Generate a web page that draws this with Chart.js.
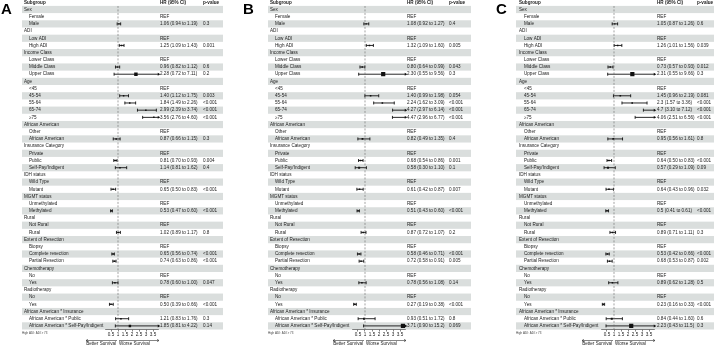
<!DOCTYPE html>
<html>
<head>
<meta charset="utf-8">
<title>Forest plots</title>
<script src="https://cdn.jsdelivr.net/npm/chart.js"></script>
<style>
  html, body { margin: 0; padding: 0; background: #fff; }
  #wrap { position: relative; width: 720px; height: 347px; overflow: hidden; }
  #wrap canvas { position: absolute; top: 0; }
</style>
</head>
<body>
<div id="wrap">
  <canvas id="panelA" width="240" height="347" style="left:0"></canvas>
  <canvas id="panelB" width="240" height="347" style="left:240px"></canvas>
  <canvas id="panelC" width="240" height="347" style="left:480px"></canvas>
</div>
<script>
const subgroups = ['Sex', 'Female', 'Male', 'ADI', 'Low ADI', 'High ADI', 'Income Class', 'Lower Class',
  'Middle Class', 'Upper Class', 'Age', '<45', '45-54', '55-64', '65-74', '\u226575', 'African American',
  'Other', 'African American', 'Insurance Category', 'Private', 'Public', 'Self-Pay/Indigent', 'IDH status',
  'Wild Type', 'Mutant', 'MGMT status', 'Unmethylated', 'Methylated', 'Rural', 'Not Rural', 'Rural',
  'Extent of Resection', 'Biopsy', 'Complete resection', 'Partial Resection', 'Chemotherapy', 'No', 'Yes',
  'Radiotherapy', 'No', 'Yes', 'African American * Insurance', 'African American * Public',
  'African American * Self-Pay/Indigent'];
const headerRows = [0, 3, 6, 10, 16, 19, 23, 26, 29, 32, 36, 39, 42];
const refRows = [1, 4, 7, 11, 17, 20, 24, 27, 30, 33, 37, 40];
const estRows = [2, 5, 8, 9, 12, 13, 14, 15, 18, 21, 22, 25, 28, 31, 34, 35, 38, 41, 43, 44];

// panel A
const estA = [1.06, 1.25, 0.96, 2.28, 1.40, 1.84, 2.99, 3.56, 0.87, 0.81, 1.14, 0.65, 0.53, 1.02, 0.65, 0.74, 0.78, 0.50, 1.21, 1.85];
const lowA = [0.94, 1.09, 0.82, 0.72, 1.12, 1.49, 2.39, 2.76, 0.66, 0.70, 0.81, 0.50, 0.47, 0.89, 0.56, 0.63, 0.60, 0.39, 0.83, 0.81];
const highA = [1.19, 1.43, 1.12, 7.11, 1.75, 2.26, 3.74, 4.60, 1.15, 0.93, 1.62, 0.83, 0.60, 1.17, 0.74, 0.86, 1.00, 0.66, 1.76, 4.22];
const pA = ['0.3', '0.001', '0.6', '0.2', '0.003', '<0.001', '<0.001', '<0.001', '0.3', '0.004', '0.4', '<0.001',
  '<0.001', '0.8', '<0.001', '<0.001', '0.047', '<0.001', '0.3', '0.14'];

// panel B
const estB = [1.08, 1.32, 0.80, 2.30, 1.40, 2.24, 4.27, 4.47, 0.82, 0.68, 0.58, 0.61, 0.51, 0.87, 0.58, 0.72, 0.78, 0.27, 0.93, 3.71];
const lowB = [0.92, 1.09, 0.64, 0.55, 0.99, 1.62, 2.97, 2.96, 0.49, 0.54, 0.30, 0.42, 0.43, 0.72, 0.46, 0.58, 0.56, 0.19, 0.51, 0.90];
const highB = [1.27, 1.60, 0.99, 9.56, 1.98, 3.09, 6.14, 6.77, 1.35, 0.86, 1.10, 0.87, 0.60, 1.07, 0.71, 0.91, 1.08, 0.38, 1.72, 15.2];
const pB = ['0.4', '0.005', '0.043', '0.3', '0.054', '<0.001', '<0.001', '<0.001', '0.4', '0.001', '0.1', '0.007',
  '<0.001', '0.2', '<0.001', '0.005', '0.14', '<0.001', '0.8', '0.069'];

// panel C
const estC = [1.05, 1.26, 0.73, 2.31, 1.45, 2.3, 4.7, 4.06, 0.95, 0.64, 0.57, 0.64, 0.5, 0.89, 0.53, 0.68, 0.89, 0.23, 0.84, 2.23];
const lowC = [0.87, 1.01, 0.57, 0.55, 0.96, 1.57, 3.10, 2.51, 0.56, 0.50, 0.29, 0.43, 0.41, 0.71, 0.42, 0.53, 0.62, 0.16, 0.44, 0.43];
const highC = [1.26, 1.56, 0.93, 9.66, 2.19, 3.36, 7.12, 6.56, 1.61, 0.83, 1.09, 0.96, 0.61, 1.11, 0.66, 0.87, 1.28, 0.33, 1.60, 11.5];
const pC = ['0.6', '0.039', '0.012', '0.3', '0.081', '<0.001', '<0.001', '<0.001', '0.8', '<0.001', '0.09', '0.032',
  '<0.001', '0.3', '<0.001', '0.002', '0.5', '<0.001', '0.6', '0.3'];

const xTicks = [0.5, 1, 1.5, 2, 2.5, 3, 3.5];
const xMin = 0.1, xMax = 3.9;
const footnote = 'High ADI: ADI > 73';

const FONT = '"Liberation Sans", Arial, sans-serif';
const TXT = 4.6;
const STRIPE = '#dadedd';

const panels = [
  { id: 'panelA', letter: 'A', left: 0, est: estA, low: lowA, high: highA, p: pA, trimEst: false,
    plotL: 105.4, plotR: 158.6, bandL: 22, bandR: 223, labelX: 24, hrX: 160, pX: 203, letterX: 1 },
  { id: 'panelB', letter: 'B', left: 240, est: estB, low: lowB, high: highB, p: pB, trimEst: false,
    plotL: 352.4, plotR: 405.6, bandL: 268, bandR: 471, labelX: 270, hrX: 407, pX: 449, letterX: 243 },
  { id: 'panelC', letter: 'C', left: 480, est: estC, low: lowC, high: highC, p: pC, trimEst: true,
    plotL: 601.4, plotR: 654.6, bandL: 516, bandR: 714, labelX: 519, hrX: 657, pX: 697, letterX: 496 }
];

const fmtCI = v => (v >= 10 ? v.toFixed(1) : v.toFixed(2));

function tablePlugin(cfg) {
  const lx = v => v - cfg.left;
  return {
    id: 'table' + cfg.letter,
    beforeDraw(chart) {
      // striped rows behind everything
      const ctx = chart.ctx;
      const y = chart.scales.y;
      ctx.save();
      ctx.fillStyle = STRIPE;
      for (let r = 0; r < subgroups.length; r += 2) {
        const t = y.getPixelForValue(r + 0.5);
        const b = y.getPixelForValue(r + 1.5);
        ctx.fillRect(lx(cfg.bandL), Math.min(t, b), cfg.bandR - cfg.bandL, Math.abs(b - t));
      }
      ctx.restore();
    },
    afterDraw(chart) {
      const { ctx, scales: { x, y } } = chart;
      ctx.save();
      ctx.fillStyle = '#000';
      ctx.font = 'bold 15px ' + FONT;
      ctx.textBaseline = 'alphabetic';
      ctx.fillText(cfg.letter, lx(cfg.letterX), 13.5);

      ctx.textBaseline = 'middle';
      ctx.fillStyle = '#222';
      const y0 = y.getPixelForValue(0);
      ctx.font = 'bold ' + TXT + 'px ' + FONT;
      ctx.fillText('Subgroup', lx(cfg.labelX), y0);
      ctx.fillText('HR (95% CI)', lx(cfg.hrX), y0);
      ctx.fillText('p-value', lx(cfg.pX), y0);

      ctx.font = TXT + 'px ' + FONT;
      subgroups.forEach((name, r) => {
        const yy = y.getPixelForValue(r + 1);
        const indent = headerRows.includes(r) ? 0 : 5;
        ctx.fillText(name, lx(cfg.labelX + indent), yy);
        if (refRows.includes(r)) ctx.fillText('REF', lx(cfg.hrX), yy);
      });
      estRows.forEach((r, i) => {
        const yy = y.getPixelForValue(r + 1);
        const e = cfg.trimEst ? String(cfg.est[i]) : cfg.est[i].toFixed(2);
        ctx.fillText(e + ' (' + fmtCI(cfg.low[i]) + ' to ' + fmtCI(cfg.high[i]) + ')', lx(cfg.hrX), yy);
        ctx.fillText(cfg.p[i], lx(cfg.pX), yy);
      });

      ctx.fillStyle = '#444';
      ctx.font = '3px ' + FONT;
      ctx.fillText(footnote, lx(cfg.bandL), 333.5);

      // direction arrows under the axis
      const p1 = x.getPixelForValue(1);
      const ay = 340.5;
      ctx.strokeStyle = '#333';
      ctx.lineWidth = 0.6;
      ctx.beginPath();
      ctx.moveTo(p1 - 1, ay); ctx.lineTo(p1 - 32, ay);
      ctx.moveTo(p1 - 30, ay - 1.2); ctx.lineTo(p1 - 32, ay); ctx.lineTo(p1 - 30, ay + 1.2);
      ctx.moveTo(p1 + 1, ay); ctx.lineTo(p1 + 41, ay);
      ctx.moveTo(p1 + 39, ay - 1.2); ctx.lineTo(p1 + 41, ay); ctx.lineTo(p1 + 39, ay + 1.2);
      ctx.stroke();
      ctx.fillStyle = '#222';
      ctx.font = TXT + 'px ' + FONT;
      ctx.textAlign = 'right';
      ctx.fillText('Better Survival', p1 - 2, 344);
      ctx.textAlign = 'left';
      ctx.fillText('Worse Survival', p1 + 1, 344);
      ctx.restore();
    }
  };
}

function buildPanel(cfg) {
  const ci = [], caps = [], arrows = [], boxes = [], boxR = [];
  estRows.forEach((row, i) => {
    const lo = cfg.low[i], hi = cfg.high[i], est = cfg.est[i];
    const yv = row + 1;
    ci.push({ x: lo, y: yv }, { x: Math.min(hi, xMax), y: yv }, { x: null, y: null });
    caps.push({ x: lo, y: yv });
    if (hi > xMax) arrows.push({ x: xMax, y: yv }); else caps.push({ x: hi, y: yv });
    if (est <= xMax) {
      const se = Math.log(hi / lo) / 3.92;
      const side = Math.max(1.4, Math.min(4.2, 1.4 + 6 * se * se));
      boxes.push({ x: est, y: yv });
      boxR.push(side / Math.SQRT2);
    }
  });

  new Chart(document.getElementById(cfg.id), {
    type: 'scatter',
    data: {
      datasets: [
        { type: 'line', data: [{ x: 1, y: 0.5 }, { x: 1, y: subgroups.length + 0.5 }], borderColor: '#666',
          borderWidth: 0.6, borderDash: [2, 1.5], pointRadius: 0 },
        { type: 'line', data: ci, borderColor: '#111', borderWidth: 0.9, pointRadius: 0, spanGaps: false },
        { data: caps, pointStyle: 'line', rotation: 90, pointRadius: 1.5, pointBorderColor: '#111',
          pointBorderWidth: 0.9 },
        { data: arrows, pointStyle: 'triangle', rotation: 90, pointRadius: 1.7, pointBackgroundColor: '#111',
          pointBorderWidth: 0, clip: false },
        { data: boxes, pointStyle: 'rect', pointRadius: boxR, pointBackgroundColor: '#111', pointBorderWidth: 0 }
      ]
    },
    options: {
      responsive: false,
      animation: false,
      events: [],
      layout: { padding: { left: cfg.plotL - cfg.left, right: cfg.left + 240 - cfg.plotR, top: 5.9, bottom: 0 } },
      plugins: { legend: { display: false }, tooltip: { enabled: false } },
      scales: {
        x: {
          type: 'linear', min: xMin, max: xMax,
          afterBuildTicks: s => { s.ticks = xTicks.map(v => ({ value: v })); },
          afterFit: s => { s.height = 17.5; },
          ticks: { font: { size: TXT, family: FONT }, color: '#222', padding: 0.5, maxRotation: 0,
            autoSkip: false, callback: v => String(v) },
          grid: { drawOnChartArea: false, drawTicks: true, tickLength: 2, color: '#333', lineWidth: 0.6 },
          border: { display: true, color: '#333', width: 0.6 }
        },
        y: { type: 'linear', display: false, reverse: true, min: 0.5, max: subgroups.length + 0.5 }
      }
    },
    plugins: [tablePlugin(cfg)]
  });
}

panels.forEach(buildPanel);
</script>
</body>
</html>
